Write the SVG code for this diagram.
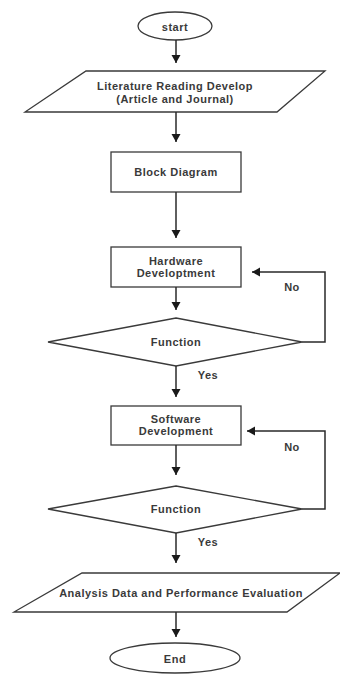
<svg xmlns="http://www.w3.org/2000/svg" width="340" height="674" viewBox="0 0 340 674">
<style>
.s{fill:#fff;stroke:#3a3a3a;stroke-width:1.3}
.t{font-family:"Liberation Sans",Arial,sans-serif;font-size:11px;font-weight:bold;letter-spacing:0.5px;fill:#3a3a3a;text-anchor:middle;dominant-baseline:central}
.c{fill:none;stroke:#2a2a2a;stroke-width:1.5}
</style>
<defs>
<marker id="ah" markerUnits="userSpaceOnUse" markerWidth="10" markerHeight="10" refX="8" refY="4.5" orient="auto">
<path d="M0,0 L8,4.5 L0,9 Z" fill="#1a1a1a"/>
</marker>
</defs>
<rect width="340" height="674" fill="#fff"/>
<g id="start"><ellipse class="s" cx="175" cy="26" rx="37" ry="14"/><text class="t" x="175" y="27">start</text></g>
<g id="literature"><polygon class="s" points="86,71 325,71 277,112 25,112"/><text class="t" x="175" y="86">Literature Reading Develop</text><text class="t" x="175" y="99">(Article and Journal)</text></g>
<g id="block"><rect class="s" x="111" y="152" width="130" height="40"/><text class="t" x="176" y="172">Block Diagram</text></g>
<g id="hardware"><rect class="s" x="111" y="247" width="130" height="40"/><text class="t" x="176" y="261">Hardware</text><text class="t" x="176" y="273">Developtment</text></g>
<g id="function1"><polygon class="s" points="176,318 302,342 176,366 48,342"/><text class="t" x="176" y="342">Function</text></g>
<g id="software"><rect class="s" x="111" y="406" width="130" height="39"/><text class="t" x="176" y="419">Software</text><text class="t" x="176" y="431">Development</text></g>
<g id="function2"><polygon class="s" points="176,486 302,509 176,533 48,509"/><text class="t" x="176" y="509">Function</text></g>
<g id="analysis"><polygon class="s" points="82,573 340,573 287,612 14,612"/><text class="t" x="181" y="593">Analysis Data and Performance Evaluation</text></g>
<g id="end"><ellipse class="s" cx="175" cy="658" rx="65" ry="15"/><text class="t" x="175" y="659">End</text></g>
<g id="connectors">
<line class="c" x1="176" y1="40" x2="176" y2="63" marker-end="url(#ah)"/>
<line class="c" x1="176" y1="112" x2="176" y2="142" marker-end="url(#ah)"/>
<line class="c" x1="176" y1="192" x2="176" y2="238" marker-end="url(#ah)"/>
<line class="c" x1="176" y1="287" x2="176" y2="310" marker-end="url(#ah)"/>
<line class="c" x1="176" y1="366" x2="176" y2="397" marker-end="url(#ah)"/>
<line class="c" x1="176" y1="445" x2="176" y2="475" marker-end="url(#ah)"/>
<line class="c" x1="176" y1="533" x2="176" y2="563" marker-end="url(#ah)"/>
<line class="c" x1="176" y1="612" x2="176" y2="637" marker-end="url(#ah)"/>
<polyline class="c" points="302,342 325,342 325,272 252,272" marker-end="url(#ah)"/>
<polyline class="c" points="302,509 325,509 325,431 247,431" marker-end="url(#ah)"/>
<text class="t" x="292" y="287">No</text>
<text class="t" x="208" y="375">Yes</text>
<text class="t" x="292" y="447">No</text>
<text class="t" x="208" y="542">Yes</text>
</g>
</svg>
